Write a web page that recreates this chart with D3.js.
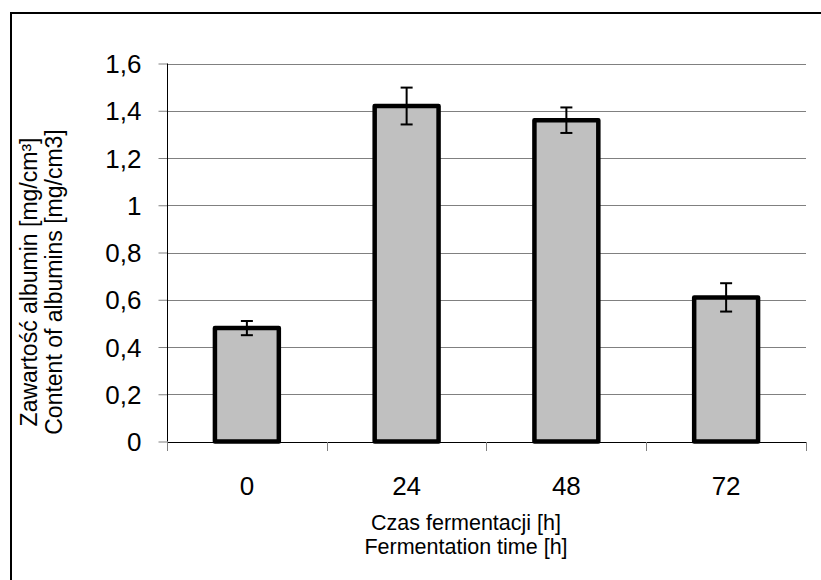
<!DOCTYPE html>
<html>
<head>
<meta charset="utf-8">
<script src="https://cdn.jsdelivr.net/npm/d3@7"></script>
<style>
    body { margin: 0; background: #fff; }
    text { font-family: "Liberation Sans", Arial, sans-serif; fill: #000; }
</style>
</head>
<body>
<script>
var hours = ["0", "24", "48", "72"];
var albumin = [0.48, 1.42, 1.36, 0.61];
var errors = [0.03, 0.078, 0.054, 0.06];
var yTicks = [0, 0.2, 0.4, 0.6, 0.8, 1, 1.2, 1.4, 1.6];
var yTickLabels = ["0", "0,2", "0,4", "0,6", "0,8", "1", "1,2", "1,4", "1,6"];

var w = 821, h = 580;

var svg = d3.select("body")
    .append("svg")
    .attr("width", w)
    .attr("height", h);

// outer frame, runs off the right and bottom edge
svg.append("rect")
    .attr("x", 11)
    .attr("y", 13)
    .attr("width", 830)
    .attr("height", 590)
    .style("fill", "none")
    .style("stroke", "#000")
    .style("stroke-width", 2);

var x = d3.scaleBand()
    .domain(hours)
    .range([167, 806])
    .paddingInner(0.6)
    .paddingOuter(0.3);

var y = d3.scaleLinear()
    .domain([0, 1.6])
    .range([441.5, 63.5]);

var step = x.step();

// grid lines
svg.selectAll(".grid")
    .data(yTicks.slice(1))
    .enter()
    .append("line")
    .attr("class", "grid")
    .attr("x1", 167)
    .attr("x2", 806)
    .attr("y1", function(d){ return Math.round(y(d)) + 0.5; })
    .attr("y2", function(d){ return Math.round(y(d)) + 0.5; })
    .style("stroke", "#808080")
    .style("stroke-width", 1);

// y axis
var yAxis = d3.axisLeft(y)
    .tickValues(yTicks)
    .tickSize(9)
    .tickPadding(17)
    .tickFormat(function(d, i){ return yTickLabels[i]; });

var gy = svg.append("g")
    .attr("transform", "translate(167.5,0)")
    .call(yAxis);
gy.select(".domain").remove();
gy.append("line")
    .attr("x1", 0).attr("x2", 0)
    .attr("y1", y(1.6)).attr("y2", y(0))
    .style("stroke", "#000");
gy.selectAll(".tick line").style("stroke", "#808080");
gy.selectAll(".tick text")
    .style("font-size", "26px")
    .attr("dy", "0.35em");

// x axis: line at zero, ticks at category boundaries
var xLine = svg.append("g");
xLine.append("line")
    .attr("x1", 167).attr("x2", 806)
    .attr("y1", Math.round(y(0)) + 0.5).attr("y2", Math.round(y(0)) + 0.5)
    .style("stroke", "#000");

var bounds = hours.map(function(d){ return x(d) - step * 0.3; });
bounds.push(x(hours[hours.length - 1]) + x.bandwidth() + step * 0.3);

xLine.selectAll(".xtick")
    .data(bounds)
    .enter()
    .append("line")
    .attr("class", "xtick")
    .attr("x1", function(d){ return Math.round(d) + 0.5; })
    .attr("x2", function(d){ return Math.round(d) + 0.5; })
    .attr("y1", 442)
    .attr("y2", 451)
    .style("stroke", "#808080");

svg.selectAll(".xlabel")
    .data(hours)
    .enter()
    .append("text")
    .attr("class", "xlabel")
    .attr("text-anchor", "middle")
    .attr("x", function(d){ return x(d) + x.bandwidth() / 2; })
    .attr("y", 495)
    .style("font-size", "26px")
    .text(function(d){ return d; });

// bars
svg.selectAll(".bar")
    .data(albumin)
    .enter()
    .append("rect")
    .attr("class", "bar")
    .attr("x", function(d, i){ return x(hours[i]); })
    .attr("y", function(d){ return y(d); })
    .attr("width", x.bandwidth())
    .attr("height", function(d){ return y(0) - y(d); })
    .style("fill", "#c0c0c0")
    .style("stroke", "#000")
    .style("stroke-width", 4.5)
    .style("stroke-linejoin", "round");

// error bars
var err = svg.selectAll(".err")
    .data(albumin)
    .enter()
    .append("g")
    .attr("class", "err")
    .attr("transform", function(d, i){
        return "translate(" + (x(hours[i]) + x.bandwidth() / 2) + ",0)";
    });

err.append("line")
    .attr("x1", 0).attr("x2", 0)
    .attr("y1", function(d, i){ return y(d + errors[i]); })
    .attr("y2", function(d, i){ return y(d - errors[i]); });
err.append("line")
    .attr("x1", -6).attr("x2", 6)
    .attr("y1", function(d, i){ return y(d + errors[i]); })
    .attr("y2", function(d, i){ return y(d + errors[i]); });
err.append("line")
    .attr("x1", -6).attr("x2", 6)
    .attr("y1", function(d, i){ return y(d - errors[i]); })
    .attr("y2", function(d, i){ return y(d - errors[i]); });
err.selectAll("line")
    .style("stroke", "#000")
    .style("stroke-width", 2);

// axis titles
var xTitle = svg.append("text")
    .attr("text-anchor", "middle")
    .attr("x", 466)
    .attr("y", 530)
    .style("font-size", "21.5px");
xTitle.append("tspan").attr("x", 466).text("Czas fermentacji [h]");
xTitle.append("tspan").attr("x", 466).attr("dy", 24).text("Fermentation time [h]");

var yTitle = svg.append("text")
    .attr("text-anchor", "middle")
    .attr("transform", "translate(37,282) rotate(-90)")
    .style("font-size", "23px");
yTitle.append("tspan").attr("x", 0).text("Zawartość albumin [mg/cm³]");
yTitle.append("tspan").attr("x", 0).attr("dy", 25).text("Content of albumins [mg/cm3]");
</script>
</body>
</html>
